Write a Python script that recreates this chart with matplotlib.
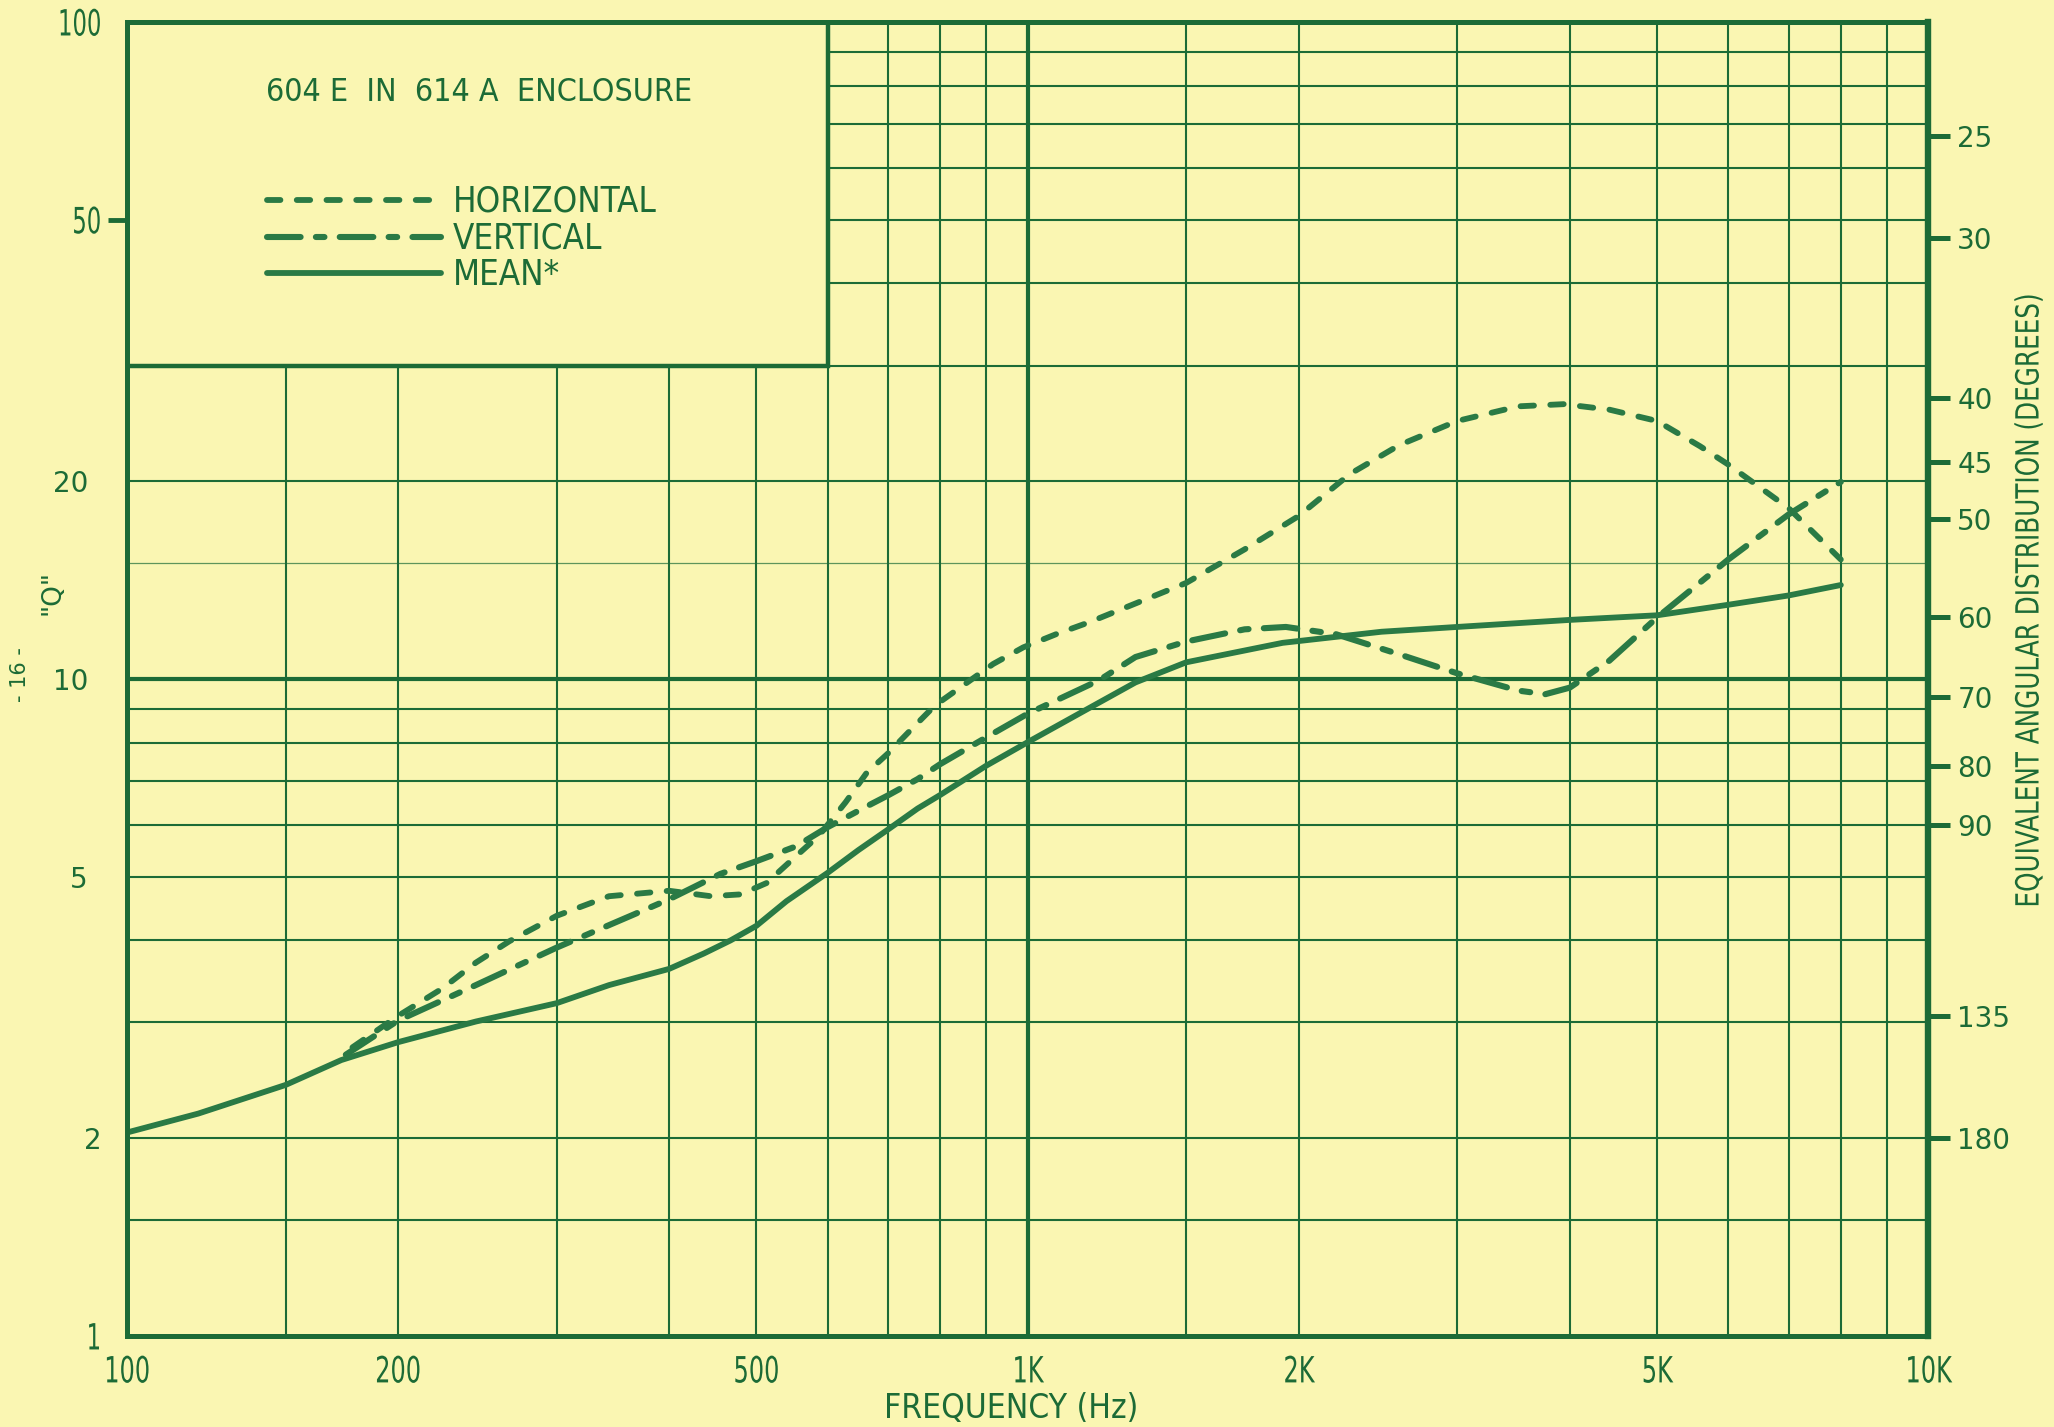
import numpy as np
import matplotlib
matplotlib.use("Agg")
import matplotlib.pyplot as plt
from matplotlib import font_manager
from matplotlib.patches import Rectangle
from matplotlib.patheffects import AbstractPathEffect
from matplotlib.transforms import Affine2D, ScaledTranslation

PAPER = "#faf6b2"
INK = "#1c6b36"
CURVE = "#2a7a45"

# a narrow face for the lettering, whatever is available
_fonts = font_manager.fontManager.ttflist
if any(f.name == "Liberation Sans Narrow" for f in _fonts):
    NARROW = {"family": "Liberation Sans Narrow"}
elif any(f.name == "DejaVu Sans" and "condensed" in str(f.stretch) for f in _fonts):
    NARROW = {"family": "DejaVu Sans", "stretch": "condensed"}
else:
    NARROW = {"family": "Liberation Sans"}
ROUND = {"family": "DejaVu Sans"}


class Squeeze(AbstractPathEffect):
    """Draw text narrower than its face, keeping one edge (or the middle) put."""

    def __init__(self, factor, anchor="center"):
        super().__init__()
        self.factor = factor
        self.anchor = anchor

    def draw_path(self, renderer, gc, tpath, affine, rgbFace=None):
        ext = tpath.get_extents()
        x0 = {"left": ext.x0, "center": (ext.x0 + ext.x1) / 2, "right": ext.x1}[self.anchor]
        squeeze = Affine2D().translate(-x0, 0).scale(self.factor, 1).translate(x0, 0)
        renderer.draw_path(gc, tpath, squeeze + affine, rgbFace)


# directivity factor Q
freq_horizontal = [178, 200, 224, 244, 266, 300, 343, 400, 445, 480, 513, 553, 587,
                   628, 663, 699, 741, 789, 853, 916, 989, 1076, 1171, 1500, 1742,
                   2000, 2279, 2588, 3000, 3508, 3940, 4426, 5000, 5584, 6000, 7000, 8000]
q_horizontal = [2.75, 3.07, 3.38, 3.70, 3.99, 4.36, 4.67, 4.76, 4.67, 4.70, 4.89, 5.37,
                5.78, 6.49, 7.2, 7.69, 8.35, 9.11, 9.83, 10.54, 11.17, 11.7, 12.2, 14.0,
                15.75, 17.7, 20.5, 22.7, 24.7, 26.0, 26.2, 25.7, 24.7, 22.6, 21.2,
                18.2, 15.2]

freq_vertical = [175, 200, 244, 300, 343, 400, 456, 500, 553, 600, 666, 700, 755, 800,
                 900, 1000, 1200, 1318, 1500, 1742, 1936, 2200, 2588, 3000, 3508, 3758,
                 4000, 4426, 5000, 6000, 7000, 8000]
q_vertical = [2.68, 3.02, 3.42, 3.90, 4.22, 4.62, 5.05, 5.28, 5.56, 5.95, 6.42, 6.65,
              7.04, 7.42, 8.15, 8.85, 9.95, 10.8, 11.4, 11.9, 12.0, 11.7, 10.9, 10.2,
              9.6, 9.48, 9.70, 10.66, 12.4, 15.2, 17.8, 19.95]

freq_mean = [100, 120, 150, 173, 200, 244, 300, 343, 400, 437, 468, 500, 540, 600,
             649, 700, 755, 800, 900, 1000, 1157, 1318, 1500, 1920, 2472, 3000, 4000,
             5000, 6000, 7000, 8000]
q_mean = [2.04, 2.18, 2.41, 2.63, 2.80, 3.01, 3.21, 3.42, 3.62, 3.82, 4.0, 4.21, 4.59,
          5.07, 5.49, 5.9, 6.35, 6.66, 7.38, 8.01, 8.95, 9.88, 10.6, 11.35, 11.8, 12.0,
          12.3, 12.5, 12.97, 13.4, 13.9]

grid_freqs = [150, 200, 300, 400, 500, 600, 700, 800, 900,
              1500, 2000, 3000, 4000, 5000, 6000, 7000, 8000, 9000]
grid_q = [1.5, 2, 3, 4, 5, 6, 7, 8, 9, 20, 30, 40, 50, 60, 70, 80, 90]
faint_q = [15]

freq_ticks = [100, 200, 500, 1000, 2000, 5000, 10000]
freq_labels = ["100", "200", "500", "1K", "2K", "5K", "10K"]
q_ticks = [1, 2, 5, 10, 20, 50, 100]
q_labels = ["1", "2", "5", "10", "20", "50", "100"]
angle_ticks = [25, 30, 40, 45, 50, 60, 70, 80, 90, 135, 180]


def q_from_angle(deg):
    # Q of a rectangular beam with equal horizontal and vertical coverage
    half = np.radians(np.asarray(deg, dtype=float) / 2)
    return 180 / np.degrees(np.arcsin(np.sin(half) ** 2))


fig = plt.figure(figsize=(20.54, 14.27), dpi=100, facecolor=PAPER)
ax = fig.add_axes([0.0618, 0.0638, 0.9387 - 0.0618, 0.9846 - 0.0638])
ax.set_facecolor(PAPER)
ax.set_xscale("log")
ax.set_yscale("log")
ax.set_xlim(100, 10000)
ax.set_ylim(1, 100)

# chart-paper grid
ax.vlines(grid_freqs, 1, 100, color=INK, lw=1.5, zorder=1)
ax.hlines(grid_q, 100, 10000, color=INK, lw=1.5, zorder=1)
ax.hlines(faint_q, 100, 10000, color=INK, lw=0.9, alpha=0.7, zorder=1)
ax.axvline(1000, color=INK, lw=3.0, zorder=1)
ax.axhline(10, color=INK, lw=3.0, zorder=1)

# title panel blanks out the upper-left corner of the grid
ax.add_patch(Rectangle((100, 30), 500, 70, facecolor=PAPER, edgecolor=INK,
                       lw=3.2, zorder=2))

h_line, = ax.plot(freq_horizontal, q_horizontal, color=CURVE, lw=4.2,
                  dashes=(2.3, 2.8), dash_capstyle="round", zorder=3)
v_line, = ax.plot(freq_vertical, q_vertical, color=CURVE, lw=4.4,
                  dashes=(5.5, 2.5, 1.4, 2.5), dash_capstyle="round", zorder=3)
m_line, = ax.plot(freq_mean, q_mean, color=CURVE, lw=4.2,
                  solid_capstyle="round", zorder=3)

for sp in ax.spines.values():
    sp.set_color(INK)
    sp.set_linewidth(3.6)
    sp.set_zorder(4)
ax.spines["right"].set_linewidth(4.6)

ax.set_xticks(freq_ticks)
ax.set_xticklabels(freq_labels)
ax.set_yticks(q_ticks)
ax.set_yticklabels(q_labels)
ax.minorticks_off()
ax.tick_params(axis="x", length=0, pad=14, labelsize=26, labelcolor=INK)
ax.tick_params(axis="y", length=0, pad=18, labelsize=26, labelcolor=INK)
for lab in ax.get_xticklabels():
    lab.set(**NARROW)
    lab.set_path_effects([Squeeze(0.74, "center")])
# the middle Q labels are set in the rounder face, a little further out
shift = ScaledTranslation(-0.14, 0, fig.dpi_scale_trans)
for tick, q in zip(ax.yaxis.get_major_ticks(), q_ticks):
    if q in (5, 10, 20):
        tick.label1.set(**ROUND)
        tick.label1.set_fontsize(20)
        tick.label1.set_transform(tick.label1.get_transform() + shift)
    elif q == 2:
        tick.label1.set(**ROUND)
        tick.label1.set_fontsize(20)
    else:
        tick.label1.set(**NARROW)
        tick.label1.set_path_effects([Squeeze(0.7, "right")])
# the only visible tick mark on the Q scale
tick50 = ax.yaxis.get_major_ticks()[q_ticks.index(50)]
tick50.tick1line.set_markersize(14)
tick50.tick1line.set_markeredgewidth(3.5)
tick50.tick1line.set_markeredgecolor(INK)

# equivalent angular distribution scale on the right
ax2 = ax.twinx()
ax2.set_yscale("log")
ax2.set_ylim(1, 100)
ax2.set_yticks(q_from_angle(angle_ticks))
ax2.set_yticklabels([str(a) for a in angle_ticks])
ax2.minorticks_off()
ax2.tick_params(axis="y", direction="out", length=16, width=3.6, color=INK,
                pad=5, labelsize=20, labelcolor=INK)
for lab in ax2.get_yticklabels():
    lab.set(**ROUND)
for sp in ax2.spines.values():
    sp.set_visible(False)

ax.set_xlabel("FREQUENCY (Hz)", fontsize=24, color=INK, **NARROW)
ax.xaxis.set_label_coords(0.491, -0.043)
ax.text(1.0566, 0.561, "EQUIVALENT ANGULAR DISTRIBUTION (DEGREES)", transform=ax.transAxes,
        rotation=90, ha="center", va="center", fontsize=23, color=INK,
        path_effects=[Squeeze(0.86, "center")], **NARROW)
ax.text(-0.0416, 0.566, '"Q"', transform=ax.transAxes, rotation=90,
        ha="center", va="center", fontsize=19, color=INK, **ROUND)
ax.text(-0.0594, 0.5035, "- 16 -", transform=ax.transAxes, rotation=90,
        ha="center", va="center", fontsize=15, color=INK, **ROUND)

ax.text(0.0772, 0.9467, "604 E  IN  614 A  ENCLOSURE", transform=ax.transAxes,
        ha="left", va="center", fontsize=23, color=INK, zorder=6, **NARROW)

leg = ax.legend([h_line, v_line, m_line], ["HORIZONTAL", "VERTICAL", "MEAN*"],
                loc="upper left", bbox_to_anchor=(0.078, 0.876), borderaxespad=0,
                borderpad=0, frameon=False, handlelength=5.0, handletextpad=0.35,
                labelspacing=0.08, prop=dict(size=25, **NARROW))
for t in leg.get_texts():
    t.set_color(INK)
leg.set_zorder(6)

fig.savefig("out.png", dpi=100, facecolor=PAPER)
